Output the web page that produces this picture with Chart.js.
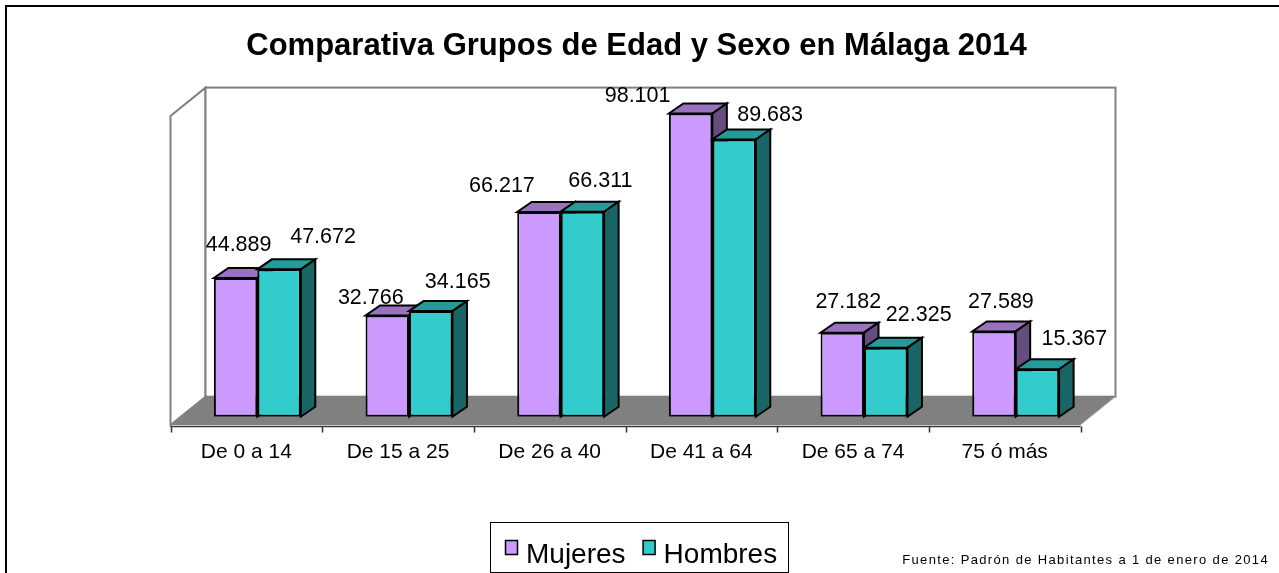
<!DOCTYPE html>
<html>
<head>
<meta charset="utf-8">
<script src="https://cdn.jsdelivr.net/npm/chart.js@4.4.1/dist/chart.umd.min.js"></script>
<style>
  body { margin: 0; background: #fff; }
  canvas { display: block; }
</style>
</head>
<body>
<canvas id="edadChart" width="1279" height="573"></canvas>
<script>
var categories = ['De 0 a 14', 'De 15 a 25', 'De 26 a 40', 'De 41 a 64', 'De 65 a 74', '75 ó más'];
var mujeres = [44889, 32766, 66217, 98101, 27182, 27589];
var hombres = [47672, 34165, 66311, 89683, 22325, 15367];
var seriesNames = ['Mujeres', 'Hombres'];
var yMax = 100000;

var FONT = '"Liberation Sans", Arial, sans-serif';

function fmt(v) {
  return String(v).replace(/\B(?=(\d{3})+(?!\d))/g, '.');
}

function poly(ctx, pts) {
  ctx.beginPath();
  ctx.moveTo(pts[0][0], pts[0][1]);
  for (var i = 1; i < pts.length; i++) ctx.lineTo(pts[i][0], pts[i][1]);
  ctx.closePath();
}

// walls, floor, axis and the 3d faces of the columns
var frame3d = {
  id: 'frame3d',
  beforeDraw: function(chart) {
    var ctx = chart.ctx;
    ctx.save();
    ctx.fillStyle = '#fff';
    ctx.fillRect(0, 0, chart.width, chart.height);
    ctx.strokeStyle = '#000';
    ctx.lineWidth = 2;
    ctx.strokeRect(6, 6, chart.width + 20, chart.height + 20);
    ctx.restore();
  },
  beforeDatasetsDraw: function(chart, args, opts) {
    var ctx = chart.ctx, a = chart.chartArea, y = chart.scales.y, x = chart.scales.x;
    var f = opts.front, b = opts.back, d = opts.depth;
    var top = y.getPixelForValue(yMax), base = y.getPixelForValue(0);
    ctx.save();
    ctx.lineJoin = 'miter';
    // left wall
    ctx.fillStyle = '#fff';
    ctx.strokeStyle = '#808080';
    ctx.lineWidth = 2;
    poly(ctx, [[a.left + f[0], base + f[1]], [a.left + f[0], top + f[1]], [a.left + b[0], top + b[1]], [a.left + b[0], base + b[1]]]);
    ctx.fill();
    ctx.stroke();
    // back wall
    ctx.fillRect(a.left + b[0], top + b[1], a.right - a.left, base - top);
    ctx.strokeRect(a.left + b[0], top + b[1], a.right - a.left, base - top);
    // floor
    ctx.fillStyle = '#808080';
    poly(ctx, [[a.left + f[0], base + f[1]], [a.right + f[0], base + f[1]], [a.right + b[0], base + b[1]], [a.left + b[0], base + b[1]]]);
    ctx.fill();
    ctx.strokeStyle = '#c0c0c0';
    ctx.lineWidth = 1;
    ctx.beginPath();
    ctx.moveTo(a.right + f[0], base + f[1]);
    ctx.lineTo(a.right + b[0], base + b[1]);
    ctx.stroke();
    // axis line + ticks
    var ay = base + f[1] + 1.5;
    ctx.strokeStyle = '#333';
    ctx.lineWidth = 1.5;
    ctx.beginPath();
    ctx.moveTo(a.left + f[0], ay);
    ctx.lineTo(a.right + f[0], ay);
    var step = (a.right - a.left) / categories.length;
    for (var i = 0; i <= categories.length; i++) {
      var tx = Math.round(a.left + f[0] + i * step) + 0.5;
      ctx.moveTo(tx, ay);
      ctx.lineTo(tx, ay + 6);
    }
    ctx.stroke();
    // category labels on the front edge
    ctx.fillStyle = '#000';
    ctx.font = '21px ' + FONT;
    ctx.textAlign = 'center';
    ctx.textBaseline = 'alphabetic';
    categories.forEach(function(c, i) {
      ctx.fillText(c, x.getPixelForValue(i) + f[0], ay + 31);
    });
    // column tops and sides
    ctx.strokeStyle = '#000';
    ctx.lineWidth = 2;
    chart.data.datasets.forEach(function(ds, di) {
      chart.getDatasetMeta(di).data.forEach(function(bar) {
        var p = bar.getProps(['x', 'y', 'base', 'width'], true);
        var l = p.x - p.width / 2, r = p.x + p.width / 2;
        ctx.fillStyle = opts.topColors[di];
        poly(ctx, [[l, p.y], [r, p.y], [r + d[0], p.y + d[1]], [l + d[0], p.y + d[1]]]);
        ctx.fill();
        ctx.stroke();
        ctx.fillStyle = opts.sideColors[di];
        poly(ctx, [[r, p.y], [r + d[0], p.y + d[1]], [r + d[0], p.base + d[1]], [r, p.base]]);
        ctx.fill();
        ctx.stroke();
      });
    });
    ctx.restore();
  },
  afterDatasetsDraw: function(chart, args, opts) {
    var ctx = chart.ctx;
    ctx.save();
    ctx.fillStyle = '#000';
    ctx.font = '21.5px ' + FONT;
    ctx.textAlign = 'center';
    ctx.textBaseline = 'alphabetic';
    chart.data.datasets.forEach(function(ds, di) {
      chart.getDatasetMeta(di).data.forEach(function(bar, i) {
        var n = opts.labelNudge[di][i];
        ctx.fillText(fmt(ds.data[i]), bar.x + n[0], bar.y - n[1]);
      });
    });
    ctx.restore();
  },
  afterDraw: function(chart, args, opts) {
    var ctx = chart.ctx;
    ctx.save();
    // legend box
    ctx.fillStyle = '#fff';
    ctx.strokeStyle = '#000';
    ctx.lineWidth = 1;
    ctx.fillRect(490.5, 522.5, 298, 50);
    ctx.strokeRect(490.5, 522.5, 298, 50);
    ctx.font = '28px ' + FONT;
    ctx.textBaseline = 'alphabetic';
    ctx.textAlign = 'left';
    var lx = 505;
    chart.data.datasets.forEach(function(ds, di) {
      ctx.fillStyle = ds.backgroundColor;
      ctx.fillRect(lx + 0.5, 540.5, 12, 14);
      ctx.strokeStyle = '#000';
      ctx.lineWidth = 1.5;
      ctx.strokeRect(lx + 0.5, 540.5, 12, 14);
      ctx.fillStyle = '#000';
      ctx.fillText(ds.label, lx + 21, 563);
      lx += 21 + ctx.measureText(ds.label).width + 17;
    });
    // source note
    ctx.font = '13px ' + FONT;
    ctx.letterSpacing = '1.35px';
    ctx.textAlign = 'right';
    ctx.fillText('Fuente: Padrón de Habitantes a 1 de enero de 2014', 1269, 564);
    ctx.restore();
  }
};

var ctx = document.getElementById('edadChart').getContext('2d');

var barChart = new Chart(ctx, {
  type: 'bar',
  data: {
    labels: categories,
    datasets: [{
      label: seriesNames[0],
      data: mujeres,
      backgroundColor: '#CC99FF',
      borderColor: '#000',
      borderWidth: 2,
      borderSkipped: false
    }, {
      label: seriesNames[1],
      data: hombres,
      backgroundColor: '#33CCCC',
      borderColor: '#000',
      borderWidth: 2,
      borderSkipped: false
    }]
  },
  options: {
    responsive: false,
    animation: false,
    layout: {
      padding: { top: 28, left: 181.5, right: 187.5, bottom: 156.3 }
    },
    datasets: {
      bar: { categoryPercentage: 0.573, barPercentage: 1 }
    },
    scales: {
      x: { display: false },
      y: { display: false, min: 0, max: yMax }
    },
    plugins: {
      legend: { display: false },
      tooltip: { enabled: false },
      title: {
        display: true,
        text: 'Comparativa Grupos de Edad y Sexo en Málaga 2014',
        color: '#000',
        font: { family: FONT, size: 31, weight: 'bold' },
        padding: { top: 0, bottom: 42.4 }
      },
      frame3d: {
        front: [-11, 8.3],
        back: [24, -20],
        depth: [14.5, -10],
        topColors: ['#9973BF', '#269999'],
        sideColors: ['#664D80', '#1A6666'],
        labelNudge: [
          [[3, 26.6], [-16.5, 11.6], [-37, 20], [-53, 11.6], [6, 25], [7, 23.3]],
          [[44, 26.6], [27, 23.4], [18, 25], [36, 18.6], [33, 27], [37, 24]]
        ]
      }
    }
  },
  plugins: [frame3d]
});
</script>
</body>
</html>
